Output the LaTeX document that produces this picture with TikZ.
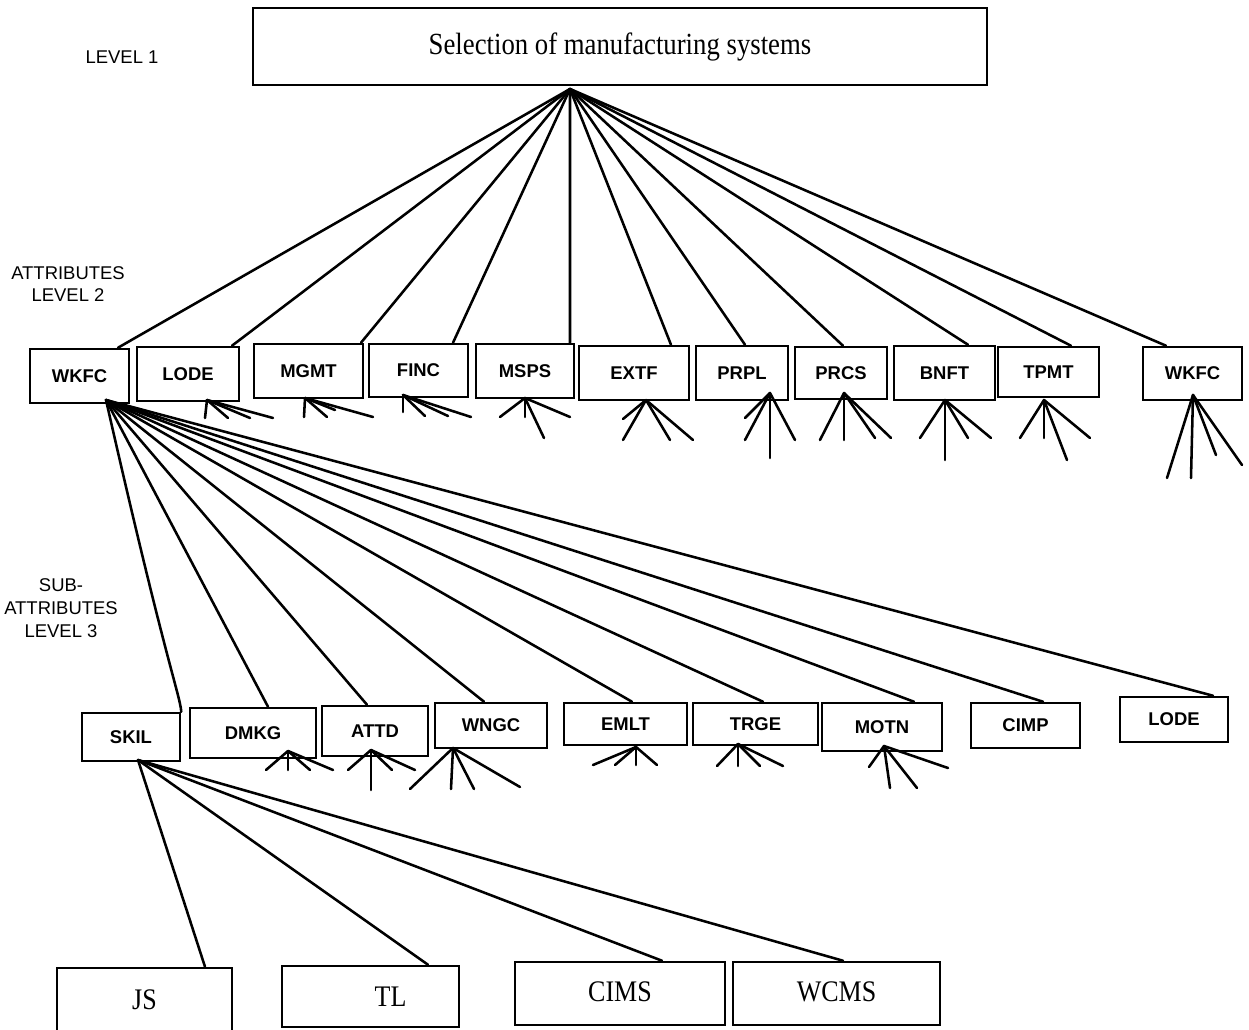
\documentclass[tikz,border=0pt]{standalone}
\usepackage{fontspec}
\setmainfont{Liberation Serif}
\newfontfamily\labelfont{Liberation Sans}
\newfontfamily\narrowserif{Liberation Serif}[FakeStretch=0.87]

\tikzset{
  link/.style={line width=1.45pt, line cap=round},
  box/.style={draw, line width=1.45pt, inner sep=0pt,
    font=\labelfont\bfseries\fontsize{10.5}{12}\selectfont},
  bigbox/.style={draw, line width=1.45pt, inner sep=0pt,
    font=\narrowserif\fontsize{17}{19}\selectfont},
  tag/.style={font=\labelfont\fontsize{10.5}{13}\selectfont, align=center},
}

% a bundle of short loose branches hanging from one point
\newcommand\spread[2]{\foreach \d in {#2} \draw[link] (#1) -- ++\d;}

\begin{document}
\begin{tikzpicture}[x=0.02cm, y=-0.02cm]
\fill[white] (0,0) rectangle (1249,1030);
\useasboundingbox (0,0) rectangle (1249,1030);

% level labels
\node[tag] (lv1) at (122,57) {LEVEL 1};
\node[tag] (lv2) at (68,284) {ATTRIBUTES\\LEVEL 2};
\node[tag] (lv3) at (61,608) {SUB-\\ATTRIBUTES\\LEVEL 3};

% level 1
\node[bigbox, minimum width=14.68cm, minimum height=1.54cm,
      font=\narrowserif\fontsize{17.5}{19}\selectfont] (sel) at (620,46.5)
      {\raisebox{3pt}{Selection of manufacturing systems}};
\coordinate (top) at (570,89);

% level 2 attributes
\node[box, minimum width=1.98cm, minimum height=1.08cm] (wkfc)  at (79.5,376)  {WKFC};
\node[box, minimum width=2.04cm, minimum height=1.08cm] (lode)  at (188,374)   {LODE};
\node[box, minimum width=2.18cm, minimum height=1.08cm] (mgmt)  at (308.5,371) {MGMT};
\node[box, minimum width=1.98cm, minimum height=1.06cm] (finc)  at (418.5,370.5) {FINC};
\node[box, minimum width=1.96cm, minimum height=1.08cm] (msps)  at (525,371)   {MSPS};
\node[box, minimum width=2.20cm, minimum height=1.08cm] (extf)  at (634,373)   {EXTF};
\node[box, minimum width=1.84cm, minimum height=1.08cm] (prpl)  at (742,373)   {PRPL};
\node[box, minimum width=1.84cm, minimum height=1.04cm] (prcs)  at (841,373)   {PRCS};
\node[box, minimum width=2.02cm, minimum height=1.08cm] (bnft)  at (944.5,373) {BNFT};
\node[box, minimum width=2.02cm, minimum height=1.00cm] (tpmt)  at (1048.5,372) {TPMT};
\node[box, minimum width=1.98cm, minimum height=1.06cm] (wkfcb) at (1192.5,373.5) {WKFC};

\draw[link] (top) -- ([xshift=0.77cm]wkfc.north);
\draw[link] (top) -- ([xshift=0.88cm]lode.north);
\draw[link] (top) -- ([xshift=1.05cm]mgmt.north);
\draw[link] (top) -- ([xshift=0.69cm]finc.north);
\draw[link] (top) -- ([xshift=0.90cm]msps.north);
\draw[link] (top) -- ([xshift=0.74cm]extf.north);
\draw[link] (top) -- ([xshift=0.06cm]prpl.north);
\draw[link] (top) -- ([xshift=0.04cm]prcs.north);
\draw[link] (top) -- ([xshift=0.47cm]bnft.north);
\draw[link] (top) -- ([xshift=0.45cm]tpmt.north);
\draw[link] (top) -- ([xshift=-0.53cm]wkfcb.north);

% loose branches under the attributes
\coordinate (fLode) at (207,400);
\coordinate (fMgmt) at (305,398);
\coordinate (fFinc) at (403,395);
\coordinate (fMsps) at (525,398);
\coordinate (fExtf) at (646,400);
\coordinate (fPrpl) at (770,393);
\coordinate (fPrcs) at (844,393);
\coordinate (fBnft) at (945,400);
\coordinate (fTpmt) at (1044,400);
\coordinate (fWkfc) at (1193,395);
\spread{fLode}{(-2,18),(21,18),(43,18),(66,18)}
\spread{fMgmt}{(-1,19),(22,19),(30,12),(68,19)}
\spread{fFinc}{(0,17),(22,21),(45,21),(68,22)}
\spread{fMsps}{(-25,19),(0,19),(19,40),(45,19)}
\spread{fExtf}{(-23,19),(-23,40),(24,40),(47,40)}
\spread{fPrpl}{(-25,25),(-25,47),(0,65),(25,47)}
\spread{fPrcs}{(-24,47),(0,47),(31,45),(47,45)}
\spread{fBnft}{(-25,38),(0,60),(23,38),(46,38)}
\spread{fTpmt}{(-24,38),(0,38),(23,60),(46,38)}
\spread{fWkfc}{(-26,83),(-2,83),(23,60),(49,70)}

% level 3 sub-attributes
\node[box, minimum width=1.96cm, minimum height=0.96cm] (skil) at (131,737)    {SKIL};
\node[box, minimum width=2.52cm, minimum height=1.00cm] (dmkg) at (253,733)    {DMKG};
\node[box, minimum width=2.12cm, minimum height=1.00cm] (attd) at (375,731)    {ATTD};
\node[box, minimum width=2.24cm, minimum height=0.90cm] (wngc) at (491,725.5)  {WNGC};
\node[box, minimum width=2.46cm, minimum height=0.84cm] (emlt) at (625.5,724)  {EMLT};
\node[box, minimum width=2.50cm, minimum height=0.84cm] (trge) at (755.5,724)  {TRGE};
\node[box, minimum width=2.40cm, minimum height=0.96cm] (motn) at (882,727)    {MOTN\hspace{0.35cm}};
\node[box, minimum width=2.18cm, minimum height=0.90cm] (cimp) at (1025.5,725.5) {CIMP};
\node[box, minimum width=2.16cm, minimum height=0.90cm] (lodeb) at (1174,719.5) {LODE};

\coordinate (wk) at (106,400);
\draw[link] (wk) .. controls (165,660) and (180,695) .. (skil.north east);
\draw[link] (wk) -- ([xshift=0.30cm]dmkg.north);
\draw[link] (wk) -- ([xshift=-0.16cm]attd.north);
\draw[link] (wk) -- ([xshift=-0.14cm]wngc.north);
\draw[link] (wk) -- ([xshift=0.13cm]emlt.north);
\draw[link] (wk) -- ([xshift=0.15cm]trge.north);
\draw[link] (wk) -- ([xshift=0.64cm]motn.north);
\draw[link] (wk) -- ([xshift=0.35cm]cimp.north);
\draw[link] (wk) -- ([xshift=0.78cm]lodeb.north);

% loose branches under the sub-attributes
\coordinate (gDmkg) at (288,751);
\coordinate (gAttd) at (371,750);
\coordinate (gWngc) at (453,748);
\coordinate (gEmlt) at (636,747);
\coordinate (gTrge) at (738,744);
\coordinate (gMotn) at (884,746);
\spread{gDmkg}{(-22,19),(0,19),(22,19),(45,19)}
\spread{gAttd}{(-23,20),(0,40),(21,20),(44,20)}
\spread{gWngc}{(-43,41),(-2,41),(21,41),(67,39)}
\spread{gEmlt}{(-43,18),(-21,18),(0,18),(21,18)}
\spread{gTrge}{(-21,22),(0,22),(22,22),(45,22)}
\spread{gMotn}{(-15,21),(6,42),(33,42),(64,22)}

% level 4 alternatives
\node[bigbox, minimum width=3.50cm, minimum height=1.28cm] (js)   at (144.5,1000)  {JS};
\node[bigbox, minimum width=3.54cm, minimum height=1.22cm] (tl)   at (370.5,996.5) {\hspace{0.8cm}TL};
\node[bigbox, minimum width=4.20cm, minimum height=1.26cm] (cims) at (620,993.5)   {\raisebox{2pt}{CIMS}};
\node[bigbox, minimum width=4.14cm, minimum height=1.26cm] (wcms) at (836.5,993.5) {\raisebox{2pt}{WCMS}};

\coordinate (sk) at (138,760);
\draw[link] (sk) -- ([xshift=1.21cm]js.north);
\draw[link] (sk) -- ([xshift=1.15cm]tl.north);
\draw[link] (sk) -- ([xshift=0.84cm]cims.north);
\draw[link] (sk) -- ([xshift=0.13cm]wcms.north);
\end{tikzpicture}
\end{document}
